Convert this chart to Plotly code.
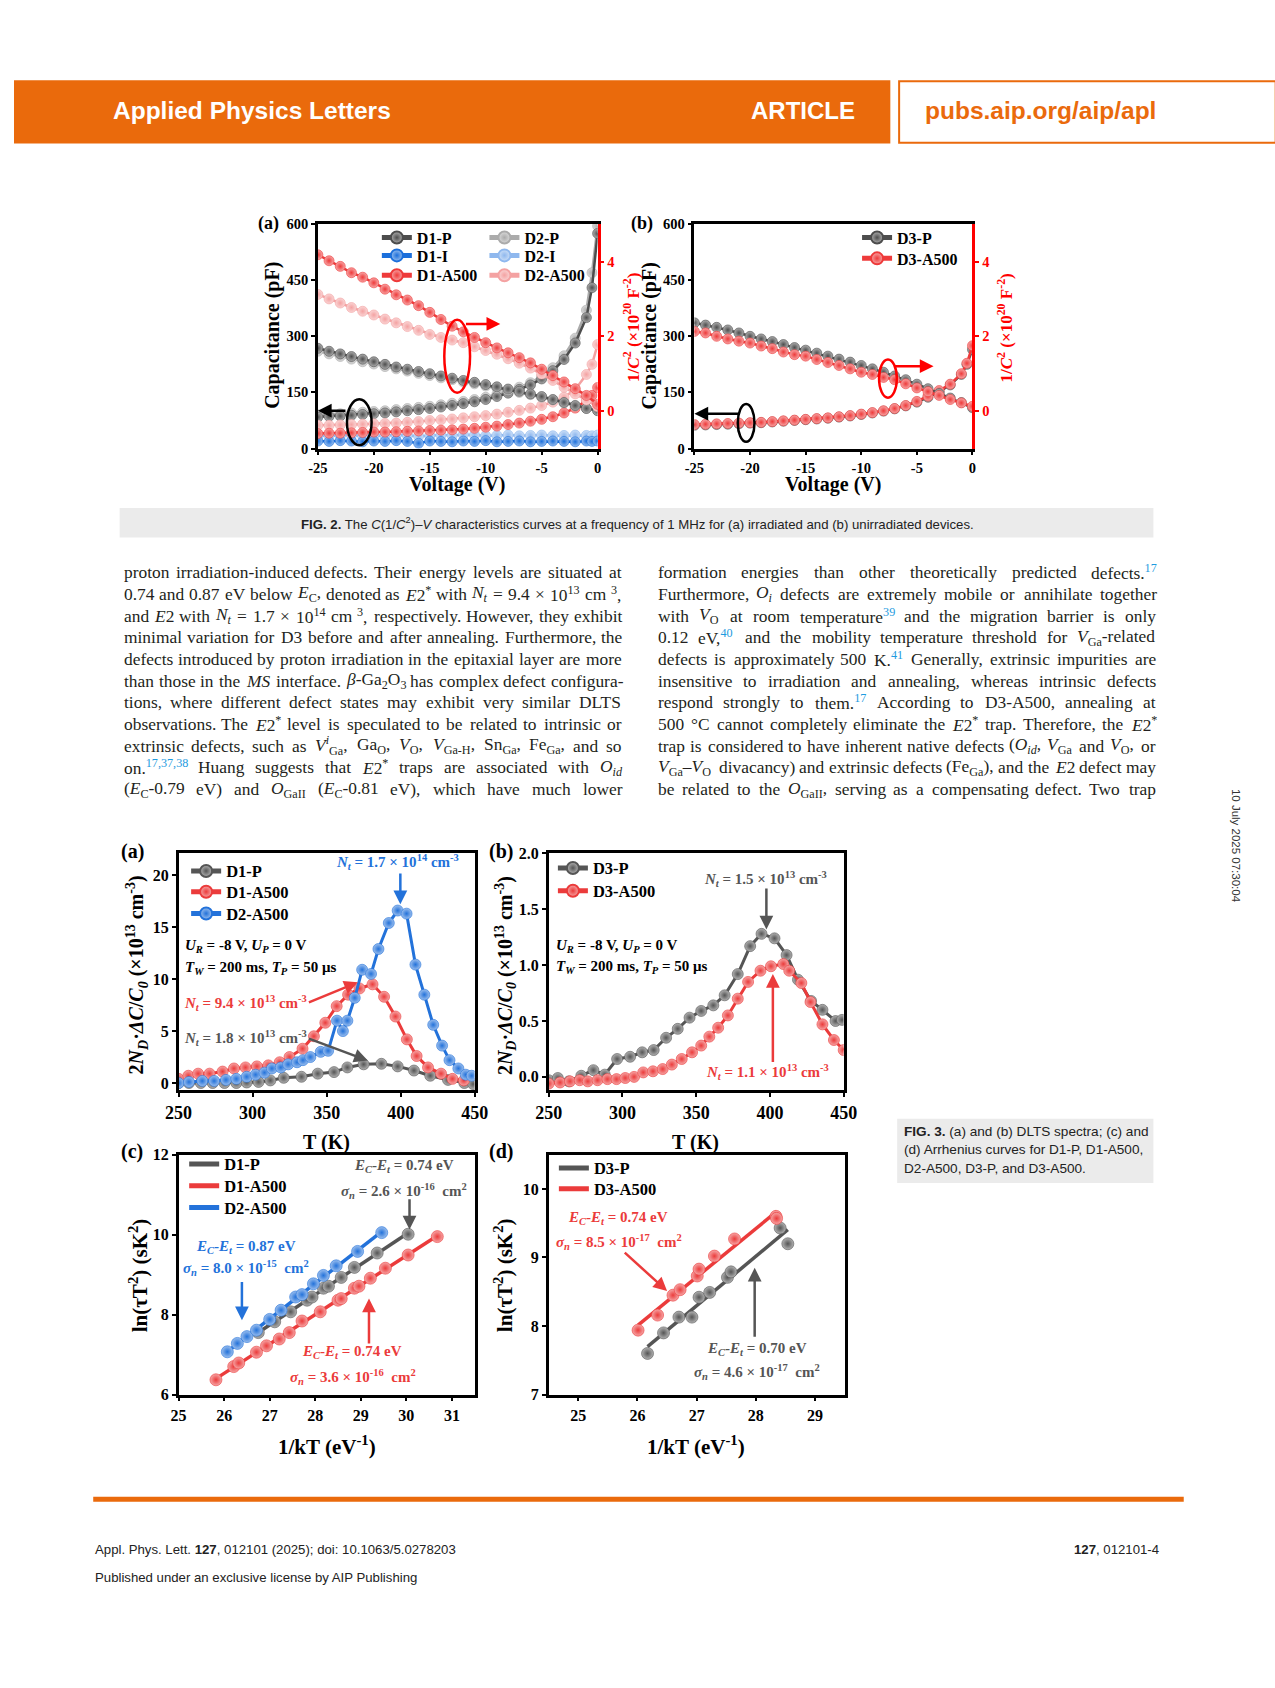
import plotly.graph_objects as go
import numpy as np
import re

W, H = 1275, 1688
def px(x): return x / W
def py(y): return 1 - y / H

SERIF = "Liberation Serif"
SANS = "Liberation Sans"
ORANGE = "#EA6A0C"

# ---------------- FIG 2 data ----------------
V_C = [-25,-24,-23,-22,-21,-20,-19,-18,-17,-16,-15,-14,-13,-12,-11,-10,-9,-8,-7,-6,-5,-4,-3,-2,-1,-0.5,0]
C_D1P = [84,86,87,89,91,93,95,98,101,104,107,111,115,120,125,131,139,148,158,170,186,208,238,282,350,430,575]
C_D2P = [90,91,93,95,97,99,101,104,107,110,113,117,121,126,131,137,145,154,164,176,193,216,248,295,370,470,595]
C_D1I = [20,19,21,20,18,20,19,21,19,14,20,19,18,20,19,21,18,19,20,18,19,20,19,18,20,19,20]
C_D2I = [33,35,34,36,33,35,34,36,35,33,34,36,35,37,36,34,35,36,34,35,36,34,35,36,35,34,36]
C_D1A = [40,41,41,42,43,44,44,45,46,47,48,49,50,52,54,57,60,64,68,73,78,85,95,108,128,142,163]
C_D2A = [62,62,63,64,65,66,67,68,70,72,75,77,79,82,85,88,92,97,102,108,115,124,137,158,198,225,278]

V_R = [-25,-24,-23,-22,-21,-20,-19,-18,-17,-16,-15,-14,-13,-12,-11,-10,-9,-8,-7,-6,-5,-4,-3,-2,-1,0]
R_D1A = [4.18,4.02,3.87,3.70,3.58,3.43,3.26,3.11,2.97,2.82,2.64,2.45,2.27,2.12,1.97,1.83,1.69,1.56,1.43,1.29,1.12,0.95,0.78,0.60,0.42,0.18]
R_D2A = [3.12,3.00,2.89,2.77,2.67,2.57,2.46,2.36,2.26,2.16,2.05,1.97,1.90,1.83,1.72,1.62,1.52,1.40,1.28,1.15,0.99,0.82,0.64,0.46,0.30,0.12]
R_D1P = [1.68,1.60,1.53,1.46,1.39,1.32,1.25,1.18,1.12,1.06,1.00,0.94,0.88,0.82,0.77,0.71,0.65,0.59,0.53,0.46,0.39,0.31,0.23,0.15,0.07,0.01]
R_D2P = [1.60,1.53,1.46,1.39,1.32,1.26,1.19,1.13,1.07,1.01,0.95,0.89,0.84,0.78,0.73,0.67,0.62,0.56,0.50,0.44,0.37,0.30,0.22,0.14,0.07,0.02]

C_D3P = [62,63,64,65,66,68,69,71,73,75,77,79,81,84,87,91,95,100,106,114,124,137,152,170,198,225,265]
C_D3A = [64,65,66,67,68,69,70,72,74,76,78,80,82,85,88,92,96,101,107,115,126,140,155,172,200,228,275]
R_D3P = [2.36,2.30,2.24,2.17,2.09,2.00,1.93,1.86,1.78,1.70,1.63,1.55,1.47,1.39,1.31,1.22,1.13,1.04,0.94,0.84,0.72,0.60,0.47,0.35,0.23,0.09]
R_D3A = [2.13,2.09,2.00,1.93,1.87,1.82,1.74,1.67,1.58,1.51,1.47,1.38,1.30,1.22,1.13,1.04,0.98,0.90,0.84,0.73,0.62,0.52,0.42,0.31,0.22,0.13]

V_TICKS = [-25, -20, -15, -10, -5, 0]
V_TICKTEXT = ["-25", "-20", "-15", "-10", "-5", "0"]

# ---------------- FIG 3 data ----------------
T_3A_D1P = [250,257,265,273,281,289,296,304,312,321,333,344,355,364,375,387,398,409,420,432,443,449]
Y_3A_D1P = [0.0,0.0,0.0,0.0,0.0,0.0,0.05,0.1,0.25,0.5,0.6,0.9,1.05,1.5,1.8,1.85,1.6,1.2,0.7,0.3,0.0,-0.1]
T_3A_D1A = [250,256.6,263.2,270.9,279.7,287.4,295.2,302.9,310.6,318.3,324.9,333.7,341.4,349.1,356.8,364.5,372.2,381,388.8,396.5,404.2,410.8,418.5,427.3,435,442.7]
Y_3A_D1A = [0.4,0.7,0.9,0.9,1.1,1.4,1.5,1.6,1.7,2.0,2.5,3.3,4.5,5.8,7.4,8.5,9.1,9.5,8.3,6.4,4.2,2.6,1.5,0.9,0.4,0.25]
T_3A_D2A = [250,257,266,274,282,289,296,302,308,313,319,324,330,334,339,346,351,357,361,364,369,374,380,385,392,398,404,410,416,422,428,433,439,444,448]
Y_3A_D2A = [0.0,0.1,0.2,0.2,0.3,0.4,0.6,0.8,1.0,1.4,1.5,1.8,2.0,2.2,2.5,3.0,3.1,6.0,5.0,6.0,8.2,10.9,10.5,12.9,15.4,16.6,16.3,11.4,8.5,5.6,3.6,2.2,1.4,0.8,0.7]

T_3B_D3P = [250,256.2,263.7,272.1,280.3,288,296.4,305.2,313.4,321.2,329.6,337.5,345.5,353.4,361.6,369.3,378.2,386.6,394.3,403.1,411.3,419,427.9,435.6,444.5,448.9]
Y_3B_D3P = [-0.03,-0.01,-0.04,0.01,0.06,0.02,0.16,0.18,0.22,0.24,0.35,0.43,0.53,0.59,0.64,0.73,0.92,1.17,1.28,1.24,1.09,0.87,0.68,0.60,0.50,0.51]
T_3B_D3A = [250,257.7,264.4,271,276.5,283.1,289.8,296,301.9,307.9,314.1,320.7,327.3,333.5,340.2,347.2,353.4,358.9,364.9,371.5,378.2,385.2,393.6,400.7,409.1,413.1,421.3,427.5,435.6,443.4,450]
Y_3B_D3A = [-0.06,-0.05,-0.04,-0.03,-0.04,-0.03,-0.02,-0.02,-0.01,0.0,0.04,0.05,0.07,0.11,0.16,0.22,0.28,0.36,0.44,0.55,0.70,0.85,0.95,0.99,1.01,0.95,0.84,0.67,0.47,0.33,0.24]

X_3C_D1P = [26.75,27.11,27.46,27.82,27.93,28.18,28.29,28.57,28.86,29.36,30.04]
Y_3C_D1P = [7.55,7.82,8.07,8.36,8.44,8.66,8.71,8.93,9.18,9.54,10.01]
X_3C_D1A = [25.82,26.21,26.32,26.71,26.93,27.21,27.43,27.71,28.11,28.50,28.57,28.86,28.96,29.21,29.54,30.04,30.68]
Y_3C_D1A = [6.37,6.70,6.79,7.06,7.22,7.39,7.55,7.84,8.07,8.36,8.40,8.66,8.71,8.91,9.16,9.49,9.95]
X_3C_D2A = [26.07,26.29,26.50,26.71,27.00,27.25,27.57,27.71,27.96,28.18,28.46,28.93,29.46]
Y_3C_D2A = [7.07,7.28,7.45,7.61,7.88,8.11,8.44,8.50,8.77,8.98,9.22,9.58,10.05]

X_3D_D3P = [26.17,26.44,26.70,26.92,27.04,27.22,27.52,27.58,28.41,28.54]
Y_3D_D3P = [7.60,7.90,8.13,8.13,8.42,8.49,8.71,8.79,9.43,9.20]
X_3D_D3A = [26.01,26.34,26.60,26.72,27.01,27.04,27.30,27.64,28.34,28.35]
Y_3D_D3A = [7.94,8.16,8.45,8.53,8.73,8.83,9.02,9.27,9.60,9.57]

# ---------------- Text ----------------
REF = "#1E9BE0"
def ref(s): return f"<sup><span style='color:{REF}'>{s}</span></sup>"
LEFT_LINES = [
    "proton irradiation-induced defects. Their energy levels are situated at",
    "0.74 and 0.87 eV below <i>E</i><sub>C</sub>, denoted as <i>E</i>2<sup>*</sup> with <i>N<sub>t</sub></i> = 9.4 × 10<sup>13</sup> cm <sup>3</sup>,",
    "and <i>E</i>2 with <i>N<sub>t</sub></i> = 1.7 × 10<sup>14</sup> cm <sup>3</sup>, respectively. However, they exhibit",
    "minimal variation for D3 before and after annealing. Furthermore, the",
    "defects introduced by proton irradiation in the epitaxial layer are more",
    "than those in the <i>MS</i> interface. <i>β</i>-Ga<sub>2</sub>O<sub>3</sub> has complex defect configura-",
    "tions, where different defect states may exhibit very similar DLTS",
    "observations. The <i>E</i>2<sup>*</sup> level is speculated to be related to intrinsic or",
    "extrinsic defects, such as <i>V</i><sup><i>i</i></sup><sub>Ga</sub>, Ga<sub>O</sub>, <i>V</i><sub>O</sub>, <i>V</i><sub>Ga-H</sub>, Sn<sub>Ga</sub>, Fe<sub>Ga</sub>, and so",
    "on." + ref("17,37,38") + " Huang suggests that <i>E</i>2<sup>*</sup> traps are associated with <i>O<sub>id</sub></i>",
    "(<i>E</i><sub>C</sub>-0.79 eV) and <i>O</i><sub>GaII</sub> (<i>E</i><sub>C</sub>-0.81 eV), which have much lower",
]
RIGHT_LINES = [
    "formation energies than other theoretically predicted defects." + ref("17"),
    "Furthermore, <i>O<sub>i</sub></i> defects are extremely mobile or annihilate together",
    "with <i>V</i><sub>O</sub> at room temperature" + ref("39") + " and the migration barrier is only",
    "0.12 eV," + ref("40") + " and the mobility temperature threshold for <i>V</i><sub>Ga</sub>-related",
    "defects is approximately 500 K." + ref("41") + " Generally, extrinsic impurities are",
    "insensitive to irradiation and annealing, whereas intrinsic defects",
    "respond strongly to them." + ref("17") + " According to D3-A500, annealing at",
    "500 °C cannot completely eliminate the <i>E</i>2<sup>*</sup> trap. Therefore, the <i>E</i>2<sup>*</sup>",
    "trap is considered to have inherent native defects (<i>O<sub>id</sub></i>, <i>V</i><sub>Ga</sub> and <i>V</i><sub>O</sub>, or",
    "<i>V</i><sub>Ga</sub>–<i>V</i><sub>O</sub> divacancy) and extrinsic defects (Fe<sub>Ga</sub>), and the <i>E</i>2 defect may",
    "be related to the <i>O</i><sub>GaII</sub>, serving as a compensating defect. Two trap",
]
FIG2_CAPTION = ("<b>FIG. 2.</b> The <i>C</i>(1/<i>C</i><sup>2</sup>)–<i>V</i> characteristics curves at a "
                "frequency of 1 MHz for (a) irradiated and (b) unirradiated devices.")
FIG3_CAPTION = [
    "<b>FIG. 3.</b> (a) and (b) DLTS spectra; (c) and",
    "(d) Arrhenius curves for D1-P, D1-A500,",
    "D2-A500, D3-P, and D3-A500.",
]

# ---------------- helpers ----------------
def tint(hexc, f):
    h = hexc.lstrip('#')
    r, g, b = int(h[0:2], 16), int(h[2:4], 16), int(h[4:6], 16)
    r = int(r + (255 - r) * f); g = int(g + (255 - g) * f); b = int(b + (255 - b) * f)
    return f"#{r:02x}{g:02x}{b:02x}"

def sphere(col, size):
    return dict(color=tint(col, 0.55), size=size, gradient=dict(type="radial", color=col),
                line=dict(width=0.6, color=col))

fig = go.Figure()
legends = {}
def new_legend(x_line, y_center, size):
    name = "legend" if not legends else f"legend{len(legends) + 1}"
    legends[name] = dict(x=px(x_line - 6), y=py(y_center), xanchor="left", yanchor="middle",
                         bgcolor="rgba(0,0,0,0)", borderwidth=0,
                         font=dict(family=SERIF, size=size, color="black", weight="bold"),
                         itemsizing="constant")
    return name

def add(x, y, col, name, xa, ya, leg=None, size=10, lw=2.5):
    fig.add_trace(go.Scatter(x=x, y=y, mode="lines+markers", name=name,
                             line=dict(color=col, width=lw), marker=sphere(col, size),
                             xaxis=xa, yaxis=ya, legend=leg or "legend", showlegend=leg is not None,
                             hoverinfo="skip"))

G1, G2 = "#4D4D4D", "#ABABAB"
B1, B2 = "#1C6FDB", "#8FB8EE"
R1, R2 = "#EE3A3A", "#F4A2A2"

# Fig 2a
add(V_C, C_D2I, B2, "D2-I", "x", "y", new_legend(487, 250, 16))
add(V_C, C_D1I, B1, "D1-I", "x", "y", new_legend(377, 250, 16))
add(V_C, C_D2P, G2, "D2-P", "x", "y", new_legend(487, 232, 16))
add(V_R, R_D2P, G2, "D2-P", "x", "y2")
add(V_C, C_D1P, G1, "D1-P", "x", "y", new_legend(377, 232, 16))
add(V_R, R_D1P, G1, "D1-P", "x", "y2")
add(V_C, C_D2A, R2, "D2-A500", "x", "y", new_legend(487, 270, 16))
add(V_R, R_D2A, R2, "D2-A500", "x", "y2")
add(V_C, C_D1A, R1, "D1-A500", "x", "y", new_legend(377, 270, 16))
add(V_R, R_D1A, R1, "D1-A500", "x", "y2")
# Fig 2b
add(V_C, C_D3P, G1, "D3-P", "x2", "y3", new_legend(868, 232, 16))
add(V_R, R_D3P, G1, "D3-P", "x2", "y4")
add(V_C, C_D3A, R1, "D3-A500", "x2", "y3", new_legend(868, 253, 16))
add(V_R, R_D3A, R1, "D3-A500", "x2", "y4")

GG, RR, BB = "#555555", "#EB3B3B", "#2372DA"
# Fig 3a
add(T_3A_D1P, Y_3A_D1P, GG, "D1-P", "x3", "y5", new_legend(182, 872, 16.5), size=11, lw=3)
add(T_3A_D1A, Y_3A_D1A, RR, "D1-A500", "x3", "y5", new_legend(182, 893, 16.5), size=11, lw=3)
add(T_3A_D2A, Y_3A_D2A, BB, "D2-A500", "x3", "y5", new_legend(182, 915, 16.5), size=11, lw=3)
# Fig 3b
add(T_3B_D3P, Y_3B_D3P, GG, "D3-P", "x4", "y6", new_legend(557, 869, 16.5), size=11, lw=3)
add(T_3B_D3A, Y_3B_D3A, RR, "D3-A500", "x4", "y6", new_legend(557, 892, 16.5), size=11, lw=3)

def arr(xs, ys, col, name, xa, ya, leg):
    k, b = np.polyfit(xs, ys, 1)
    xf = [min(xs), max(xs)]
    fig.add_trace(go.Scatter(x=xf, y=[k * v + b for v in xf], mode="lines", name=name,
                             line=dict(color=col, width=3.5), xaxis=xa, yaxis=ya,
                             legend=leg, showlegend=True, hoverinfo="skip"))
    fig.add_trace(go.Scatter(x=xs, y=ys, mode="markers", marker=sphere(col, 12),
                             xaxis=xa, yaxis=ya, showlegend=False, hoverinfo="skip"))

arr(X_3C_D1P, Y_3C_D1P, GG, "D1-P", "x5", "y7", new_legend(180, 1168, 16.5))
arr(X_3C_D1A, Y_3C_D1A, RR, "D1-A500", "x5", "y7", new_legend(180, 1190, 16.5))
arr(X_3C_D2A, Y_3C_D2A, BB, "D2-A500", "x5", "y7", new_legend(180, 1212, 16.5))
arr(X_3D_D3P, Y_3D_D3P, GG, "D3-P", "x6", "y8", new_legend(558, 1172, 16.5))
arr(X_3D_D3A, Y_3D_D3A, RR, "D3-A500", "x6", "y8", new_legend(558, 1193, 16.5))

# ---------------- axes ----------------
def axis(size=14.5, color="black", **kw):
    d = dict(showgrid=False, zeroline=False, showline=True, linecolor=color, linewidth=2.5,
             ticks="outside", ticklen=4, tickwidth=2, tickcolor=color,
             tickfont=dict(family=SERIF, size=size, color=color, weight="bold"))
    d.update(kw)
    return d

F2Y = [py(445), py(218.3)]
F3AY = [py(1093.3), py(854)]
F3CY = [py(1400.7), py(1158.3)]
fig.update_layout(
    xaxis=axis(domain=[px(310.7), px(596.7)], range=[-25, 0], tickvals=V_TICKS, ticktext=V_TICKTEXT, anchor="y", mirror=True),
    yaxis=axis(domain=F2Y, range=[0, 600], dtick=150, anchor="x"),
    yaxis2=axis(color="#FF0000", overlaying="y", side="right", anchor="x", range=[-1, 5], tickvals=[0, 2, 4]),
    xaxis2=axis(domain=[px(695.7), px(980)], range=[-25, 0], tickvals=V_TICKS, ticktext=V_TICKTEXT, anchor="y3", mirror=True),
    yaxis3=axis(domain=F2Y, range=[0, 600], dtick=150, anchor="x2"),
    yaxis4=axis(color="#FF0000", overlaying="y3", side="right", anchor="x2", range=[-1, 5], tickvals=[0, 2, 4]),
    xaxis3=axis(18, domain=[px(168.3), px(471)], range=[250, 450], dtick=50, anchor="y5", mirror=True),
    yaxis5=axis(16, domain=F3AY, range=[-0.7, 22.1], dtick=5, anchor="x3", mirror=True),
    xaxis4=axis(18, domain=[px(546.7), px(848.3)], range=[250, 450], dtick=50, anchor="y6", mirror=True),
    yaxis6=axis(16, domain=F3AY, range=[-0.12, 2.0], tickvals=[0, 0.5, 1, 1.5, 2], tickformat=".1f", anchor="x4", mirror=True),
    xaxis5=axis(16, domain=[px(168.3), px(471)], range=[25, 31.5], dtick=1, anchor="y7", mirror=True),
    yaxis7=axis(16, domain=F3CY, range=[6, 12], dtick=2, anchor="x5", mirror=True),
    xaxis6=axis(16, domain=[px(546.7), px(849.3)], range=[24.5, 29.5], tickvals=[25, 26, 27, 28, 29], anchor="y8", mirror=True),
    yaxis8=axis(16, domain=F3CY, range=[7, 10.5], tickvals=[7, 8, 9, 10], anchor="x6", mirror=True),
)
fig.update_layout(**legends)

# ---------------- shapes ----------------
shapes = [
    dict(type="rect", xref="paper", yref="paper", x0=px(0), x1=px(896), y0=py(137), y1=py(73),
         fillcolor=ORANGE, line=dict(width=0), layer="below"),
    dict(type="rect", xref="paper", yref="paper", x0=px(905), x1=px(1290), y0=py(136), y1=py(74),
         fillcolor="white", line=dict(width=2, color=ORANGE), layer="below"),
    dict(type="rect", xref="paper", yref="paper", x0=px(108), x1=px(1165), y0=py(535), y1=py(505),
         fillcolor="#EBEBEB", line=dict(width=0), layer="below"),
    dict(type="rect", xref="paper", yref="paper", x0=px(903), x1=px(1165), y0=py(1187), y1=py(1122),
         fillcolor="#EBEBEB", line=dict(width=0), layer="below"),
    dict(type="rect", xref="paper", yref="paper", x0=px(81), x1=px(1196), y0=py(1509), y1=py(1504),
         fillcolor=ORANGE, line=dict(width=0)),
    dict(type="circle", xref="x", yref="y", x0=-22.4, x1=-20.2, y0=9, y1=132, line=dict(color="black", width=2.5)),
    dict(type="circle", xref="x", yref="y2", x0=-13.7, x1=-11.4, y0=0.49, y1=2.44, line=dict(color="#FF0000", width=2.5)),
    dict(type="circle", xref="x2", yref="y3", x0=-21.1, x1=-19.6, y0=18, y1=119, line=dict(color="black", width=2.5)),
    dict(type="circle", xref="x2", yref="y4", x0=-8.4, x1=-6.8, y0=0.36, y1=1.38, line=dict(color="#FF0000", width=2.5)),
]
fig.update_layout(shapes=shapes)

# ---------------- annotations ----------------
ann = []
def txt(x, y, s, size=13, color="black", family=SERIF, xanchor="center", angle=0, yanchor="middle"):
    ann.append(dict(x=px(x), y=py(y), xref="paper", yref="paper", text=s, showarrow=False,
                    font=dict(family=family, size=size, color=color), xanchor=xanchor,
                    yanchor=yanchor, textangle=angle))

def arrow(x, y, ax, ay, xr, yr, col, w=2.5):
    ann.append(dict(x=x, y=y, ax=ax, ay=ay, xref=xr, yref=yr, axref=xr, ayref=yr, text="",
                    showarrow=True, arrowhead=2, arrowsize=1.1, arrowwidth=w, arrowcolor=col))

# Times / Liberation Serif advance widths (1/1000 em) for word placement
TW_ = {' ': 250, '.': 250, ',': 250, '-': 333, '(': 333, ')': 333, '*': 500, '×': 564, '=': 564,
       '°': 400, '–': 500, 'β': 550, ':': 278, ';': 278, "'": 180}
for c, w in zip("abcdefghijklmnopqrstuvwxyz",
                [444,500,444,500,444,333,500,500,278,278,500,278,778,500,500,500,500,333,389,278,500,500,722,500,500,444]):
    TW_[c] = w
for c, w in zip("ABCDEFGHIJKLMNOPQRSTUVWXYZ",
                [722,667,667,722,611,556,722,722,333,389,722,611,889,722,722,556,722,667,556,611,722,722,944,722,722,611]):
    TW_[c] = w
for c in "0123456789":
    TW_[c] = 500

def text_width(s, size):
    w, stack = 0.0, [1.0]
    for tok in re.split(r"(<[^>]+>)", s):
        if tok.startswith("<"):
            t = tok.lower()
            if t.startswith("<sub") or t.startswith("<sup"):
                stack.append(stack[-1] * 0.7)
            elif (t.startswith("</sub") or t.startswith("</sup")) and len(stack) > 1:
                stack.pop()
            continue
        for ch in tok:
            w += TW_.get(ch, 500) * size * stack[-1] / 1000
    return w

def split_words(s):
    depth, out, cur = 0, [], ""
    for ch in s:
        if ch == "<": depth += 1
        elif ch == ">": depth -= 1
        if ch == " " and depth == 0:
            if cur: out.append(cur)
            cur = ""
        else:
            cur += ch
    if cur: out.append(cur)
    return out

def justified(x0, x1, y, s, size, color):
    words = split_words(s)
    ws = [text_width(w, size) for w in words]
    gap = max((x1 - x0 - sum(ws)) / max(len(words) - 1, 1), 0.18 * size)
    x = x0
    for w, wd in zip(words, ws):
        txt(x, y, w, size, color, SERIF, "left")
        x += wd + gap

# header
txt(99, 104, "<b>Applied Physics Letters</b>", 24.5, "white", SANS, "left")
txt(862, 104, "<b>ARTICLE</b>", 24, "white", SANS, "right")
txt(929, 104, "<b>pubs.aip.org/aip/apl</b>", 24.5, ORANGE, SANS, "left")

# fig 2 labels
txt(260, 218, "<b>(a)</b>", 18)
txt(642, 218, "<b>(b)</b>", 18)
txt(453, 481, "<b>Voltage (V)</b>", 20)
txt(837, 481, "<b>Voltage (V)</b>", 20)
RT = "<b>1/<i>C</i><sup>2</sup> (×10<sup>20</sup> F<sup>-2</sup>)</b>"
txt(631, 323, RT, 17, "#FF0000", angle=-90)
txt(1013, 323, RT, 17, "#FF0000", angle=-90)
txt(264, 331, "<b>Capacitance (pF)</b>", 20, angle=-90)
txt(650, 331, "<b>Capacitance (pF)</b>", 20, angle=-90)
arrow(-25, 101, -22.4, 101, "x", "y", "black")
arrow(-8.7, 2.33, -11.9, 2.33, "x", "y2", "#FF0000")
arrow(-25, 93, -20.9, 93, "x2", "y3", "black")
arrow(-3.5, 1.2, -7.1, 1.2, "x2", "y4", "#FF0000")

txt(638, 521, FIG2_CAPTION, 13.2, "#222222", SANS)

# body text (justified columns)
for i, s in enumerate(LEFT_LINES):
    justified(110, 619, 570 + i * 21.9, s, 17.4, "#231F20")
for i, s in enumerate(RIGHT_LINES):
    justified(656, 1165, 570 + i * 21.9, s, 17.4, "#231F20")

txt(1249, 846, "10 July 2025 07:30:04", 11.5, "#333333", SANS, angle=90)

# fig 3 labels
txt(121, 852, "<b>(a)</b>", 20)
txt(498, 852, "<b>(b)</b>", 20)
txt(121, 1155, "<b>(c)</b>", 20)
txt(498, 1155, "<b>(d)</b>", 20)
txt(320, 1146, "<b>T (K)</b>", 20)
txt(697, 1146, "<b>T (K)</b>", 20)
txt(320, 1452, "<b>1/kT (eV<sup>-1</sup>)</b>", 21)
txt(697, 1452, "<b>1/kT (eV<sup>-1</sup>)</b>", 21)
YT3 = "<b>2<i>N<sub>D</sub></i>·<i>ΔC</i>/<i>C<sub>0</sub></i> (×10<sup>13</sup> cm<sup>-3</sup>)</b>"
txt(126, 977, YT3, 20, angle=-90)
txt(503, 977, YT3, 20, angle=-90)
YT4 = "<b>ln(τT<sup>2</sup>) (sK<sup>2</sup>)</b>"
txt(127, 1280, YT4, 21, angle=-90)
txt(500, 1280, YT4, 21, angle=-90)

NT = "<b><i>N<sub>t</sub></i> = {} × 10<sup>{}</sup> cm<sup>-3</sup></b>"
txt(392, 863, NT.format("1.7", "14"), 15, BB)
txt(172, 1005, NT.format("9.4", "13"), 15, RR, xanchor="left")
txt(172, 1040, NT.format("1.8", "13"), 15, GG, xanchor="left")
txt(768, 880, NT.format("1.5", "13"), 15, GG)
txt(770, 1075, NT.format("1.1", "13"), 15, RR)
UR = "<b><i>U<sub>R</sub></i> = -8 V, <i>U<sub>P</sub></i> = 0 V</b>"
TWs = "<b><i>T<sub>W</sub></i> = 200 ms, <i>T<sub>P</sub></i> = 50 μs</b>"
txt(173, 948, UR, 15, xanchor="left")
txt(173, 970, TWs, 15, xanchor="left")
txt(552, 948, UR, 15, xanchor="left")
txt(552, 969, TWs, 15, xanchor="left")
arrow(399.8, 17.2, 399.8, 20.3, "x3", "y5", BB)
arrow(371.1, 9.7, 337, 7.7, "x3", "y5", RR)
arrow(377.8, 2.16, 337, 4.32, "x3", "y5", GG)
arrow(397.6, 1.32, 397.6, 1.70, "x4", "y6", GG)
arrow(402, 0.92, 402, 0.12, "x4", "y6", RR)

EC = "<b><i>E<sub>C</sub></i>-<i>E<sub>t</sub></i> = {} eV</b>"
SG = "<b><i>σ<sub>n</sub></i> = {} × 10<sup>{}</sup>  cm<sup>2</sup></b>"
txt(399, 1170, EC.format("0.74"), 15, GG)
txt(399, 1195, SG.format("2.6", "-16"), 15, GG)
txt(237, 1252, EC.format("0.87"), 15, BB)
txt(237, 1273, SG.format("8.0", "-15"), 15, BB)
txt(346, 1358, EC.format("0.74"), 15, RR)
txt(347, 1383, SG.format("3.6", "-16"), 15, RR)
txt(618, 1222, EC.format("0.74"), 15, RR)
txt(619, 1247, SG.format("8.5", "-17"), 15, RR)
txt(760, 1355, EC.format("0.70"), 15, GG)
txt(760, 1378, SG.format("4.6", "-17"), 15, GG)
arrow(30.07, 10.13, 30.07, 10.92, "x5", "y7", GG)
arrow(26.39, 7.86, 26.39, 8.85, "x5", "y7", BB)
arrow(29.18, 8.40, 29.18, 7.24, "x5", "y7", RR)
arrow(26.50, 8.51, 25.76, 9.09, "x6", "y8", RR)
arrow(27.98, 8.85, 27.98, 7.82, "x6", "y8", GG)

for i, s in enumerate(FIG3_CAPTION):
    txt(908, 1135 + i * 18.5, s, 13.6, "#222222", SANS, "left")

# footer
txt(81, 1557, "Appl. Phys. Lett. <b>127</b>, 012101 (2025); doi: 10.1063/5.0278203", 13.2, "#222222", SANS, "left")
txt(1173, 1557, "<b>127</b>, 012101-4", 13.2, "#222222", SANS, "right")
txt(81, 1585, "Published under an exclusive license by AIP Publishing", 13.2, "#222222", SANS, "left")

fig.update_layout(annotations=ann, width=W, height=H, margin=dict(l=0, r=0, t=0, b=0),
                  paper_bgcolor="white", plot_bgcolor="rgba(0,0,0,0)", showlegend=True)

fig.write_html("out.html", config={"displayModeBar": False},
               post_script="document.body.style.margin='0';document.documentElement.style.margin='0';")
